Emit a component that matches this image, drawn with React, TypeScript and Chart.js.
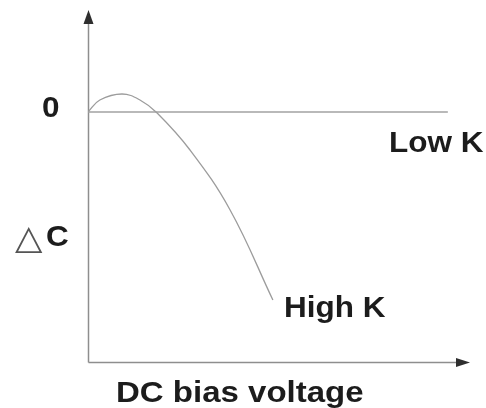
import React, { useEffect, useRef } from "react";
import { Chart, registerables } from "chart.js";

Chart.register(...registerables);

// DC bias voltage (arbitrary units) and ΔC (arbitrary units) for the High K curve
const biasVoltage = [0, 0.31, 0.89, 1.36, 1.81, 2.67, 3.72, 4.84];
const highKDeltaC = [0, 1.2, 1.8, 1.2, -0.1, -3.8, -9.8, -18.8];
// Low K stays flat at zero
const lowKBias = [0, 9.42];
const lowKDeltaC = [0, 0];
// axis ranges
const xRange = [0, 10];
const yRange = [-25, 10.2];
// text
const zeroLabel = "0";
const lowKLabel = "Low K";
const highKLabel = "High K";
const deltaSymbol = "△";
const yLabel = "C";
const xLabel = "DC bias voltage";

const TEXT = "#1c1c1c";
const FONT = "bold 30px 'Liberation Sans', Arial, sans-serif";

function drawText(ctx: CanvasRenderingContext2D, text: string, x: number, y: number, sx: number, font = FONT, color = TEXT) {
  ctx.save();
  ctx.font = font;
  ctx.fillStyle = color;
  ctx.textAlign = "left";
  ctx.textBaseline = "alphabetic";
  ctx.translate(x, y);
  ctx.scale(sx, 1);
  ctx.fillText(text, 0, 0);
  ctx.restore();
}

const annotationPlugin = {
  id: "schematicAxes",
  beforeDatasetsDraw(chart: any) {
    const ctx: CanvasRenderingContext2D = chart.ctx;
    const xs = chart.scales.x;
    const ys = chart.scales.y;
    const x0 = Math.round(xs.getPixelForValue(xRange[0])) + 0.5;
    const x1 = xs.getPixelForValue(xRange[1]);
    const yb = Math.round(ys.getPixelForValue(yRange[0])) + 0.5;
    const yt = ys.getPixelForValue(yRange[1]);
    ctx.save();
    ctx.strokeStyle = "#8e8e8e";
    ctx.lineWidth = 1.5;
    ctx.beginPath();
    ctx.moveTo(x0, yb);
    ctx.lineTo(x0, yt + 10);
    ctx.moveTo(x0, yb);
    ctx.lineTo(x1 - 10, yb);
    ctx.stroke();
    // arrowheads
    ctx.fillStyle = "#2e2e2e";
    ctx.beginPath();
    ctx.moveTo(x0, yt);
    ctx.lineTo(x0 - 5, yt + 14);
    ctx.lineTo(x0 + 5, yt + 14);
    ctx.closePath();
    ctx.fill();
    ctx.beginPath();
    ctx.moveTo(x1, yb);
    ctx.lineTo(x1 - 14, yb - 4.5);
    ctx.lineTo(x1 - 14, yb + 4.5);
    ctx.closePath();
    ctx.fill();
    ctx.restore();
  },
  afterDraw(chart: any) {
    const ctx: CanvasRenderingContext2D = chart.ctx;
    drawText(ctx, zeroLabel, 42, 117, 1.05);
    drawText(ctx, lowKLabel, 389, 152, 1.05);
    drawText(ctx, highKLabel, 284, 317, 1.05);
    drawText(ctx, xLabel, 116, 402, 1.1);
    drawText(ctx, deltaSymbol, 15, 249, 1.05, "normal 34px 'DejaVu Sans', sans-serif", "#555");
    drawText(ctx, yLabel, 46, 246, 1.05);
  },
};

export default function App() {
  const ref = useRef<HTMLCanvasElement | null>(null);
  useEffect(() => {
    if (!ref.current) return;
    const chart = new Chart(ref.current, {
      type: "line",
      data: {
        datasets: [
          {
            label: highKLabel,
            data: biasVoltage.map((v, i) => ({ x: v, y: highKDeltaC[i] })),
            borderColor: "#9c9c9c",
            borderWidth: 1.3,
            pointRadius: 0,
            tension: 0.4,
            fill: false,
          },
          {
            label: lowKLabel,
            data: lowKBias.map((v, i) => ({ x: v, y: lowKDeltaC[i] })),
            borderColor: "#a2a2a2",
            borderWidth: 1.6,
            pointRadius: 0,
            tension: 0,
            fill: false,
          },
        ],
      },
      options: {
        responsive: false,
        animation: false,
        layout: { padding: { left: 88, right: 16, top: 10, bottom: 46 } },
        plugins: { legend: { display: false }, tooltip: { enabled: false } },
        scales: {
          x: { type: "linear", min: xRange[0], max: xRange[1], display: false },
          y: { type: "linear", min: yRange[0], max: yRange[1], display: false },
        },
      },
      plugins: [annotationPlugin],
    });
    return () => chart.destroy();
  }, []);
  return (
    <div style={{ position: "fixed", left: 0, top: 0, width: 486, height: 408, background: "#fff" }}>
      <canvas ref={ref} width={486} height={408} style={{ display: "block" }} />
    </div>
  );
}
